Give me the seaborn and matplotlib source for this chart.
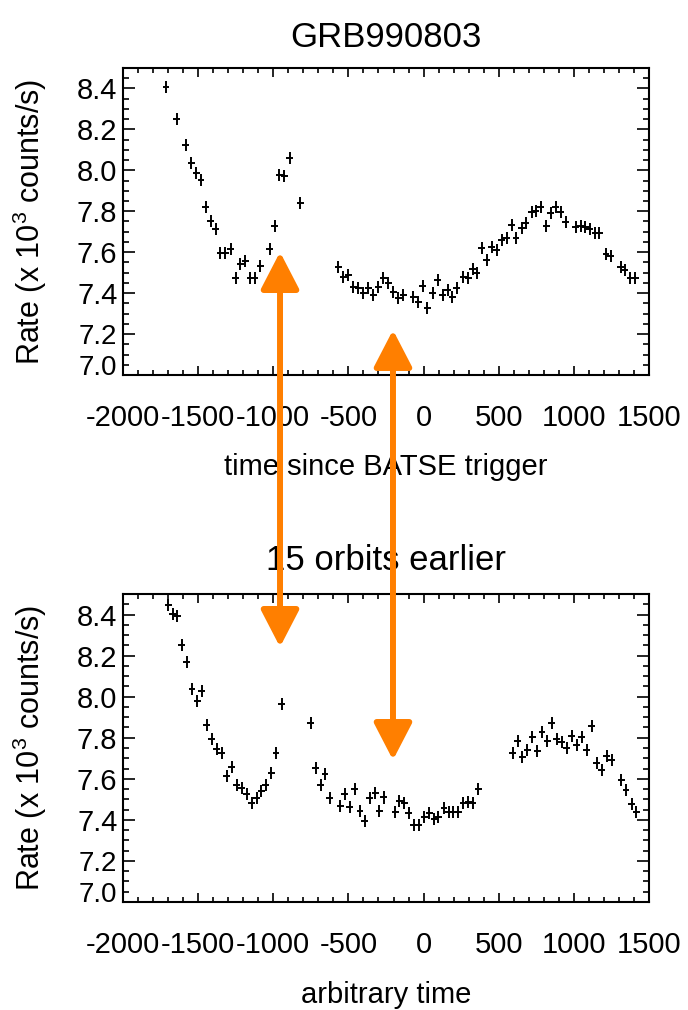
import numpy as np
import pandas as pd
import matplotlib
matplotlib.use("Agg")
import matplotlib.pyplot as plt
import seaborn as sns
from matplotlib.path import Path
from matplotlib.patches import FancyArrowPatch
from matplotlib.ticker import MultipleLocator, FixedLocator

# ---------------- data ----------------
t_top = [-1714, -1643, -1581, -1547, -1514, -1481, -1448, -1416, -1383, -1352,
         -1321, -1283, -1250, -1219, -1186, -1155, -1122, -1088, -1022, -991,
         -960, -927, -889, -822,
         -567, -534, -501, -468, -434, -401, -368, -335, -301, -268,
         -235, -201, -168, -135, -68, -35, -6, 25, 61, 94,
         127, 161, 191, 220, 264, 297, 327, 353, 387, 420,
         453, 487, 520, 553, 586, 615, 652, 681, 719, 748,
         779, 815, 846, 881, 912, 946, 1014, 1047, 1076, 1107,
         1141, 1169, 1214, 1245, 1312, 1340, 1374, 1407]
r_top = [8.405, 8.250, 8.124, 8.034, 7.985, 7.953, 7.819, 7.754, 7.713, 7.594,
         7.594, 7.616, 7.472, 7.542, 7.557, 7.472, 7.472, 7.532, 7.616, 7.729,
         7.977, 7.972, 8.059, 7.839,
         7.529, 7.480, 7.489, 7.431, 7.423, 7.402, 7.423, 7.391, 7.431, 7.472,
         7.448, 7.407, 7.375, 7.391, 7.383, 7.358, 7.435, 7.326, 7.402, 7.464,
         7.391, 7.415, 7.383, 7.423, 7.480, 7.472, 7.516, 7.497, 7.619, 7.562,
         7.624, 7.611, 7.660, 7.668, 7.733, 7.668, 7.716, 7.741, 7.798, 7.803,
         7.822, 7.728, 7.790, 7.822, 7.798, 7.749, 7.724, 7.728, 7.724, 7.711,
         7.695, 7.695, 7.591, 7.581, 7.526, 7.513, 7.472, 7.472]

t_bot = [-1699, -1670, -1639, -1610, -1577, -1541, -1506, -1475, -1443, -1410,
         -1377, -1343, -1310, -1275, -1243, -1210, -1177, -1142, -1110, -1080,
         -1049, -1015, -982, -944,
         -751, -716, -685, -656, -623, -556, -523, -490, -457, -423,
         -390, -357, -323, -295, -264, -190, -161, -130, -99, -64,
         -33, 5, 38, 71, 98, 136, 169, 198, 231, 264,
         297, 327, 364,
         593, 626, 657, 690, 723, 757, 788, 823, 852, 886,
         919, 952, 985, 1019, 1052, 1085, 1119, 1152, 1185, 1218,
         1252, 1314, 1347, 1385, 1414]
r_bot = [8.447, 8.403, 8.393, 8.252, 8.170, 8.036, 7.979, 8.029, 7.862, 7.792,
         7.744, 7.724, 7.614, 7.656, 7.570, 7.553, 7.526, 7.481, 7.505, 7.542,
         7.570, 7.627, 7.727, 7.964,
         7.870, 7.651, 7.570, 7.622, 7.505, 7.468, 7.526, 7.464, 7.549, 7.443,
         7.396, 7.505, 7.529, 7.444, 7.509, 7.439, 7.493, 7.483, 7.432, 7.375,
         7.375, 7.415, 7.435, 7.402, 7.412, 7.456, 7.439, 7.439, 7.439, 7.483,
         7.488, 7.480, 7.549,
         7.727, 7.786, 7.705, 7.740, 7.802, 7.737, 7.829, 7.786, 7.870, 7.792,
         7.780, 7.748, 7.808, 7.765, 7.802, 7.740, 7.857, 7.678, 7.643, 7.711,
         7.692, 7.594, 7.546, 7.477, 7.440]

titles = ["GRB990803", "15 orbits earlier"]
xlabels = ["time since BATSE trigger", "arbitrary time"]
ylabel = "Rate (x 10$^3$ counts/s)"
xticks = [-2000, -1500, -1000, -500, 0, 500, 1000, 1500]
xticklabels = ["-2000", "-1500", "-1000", "-500", "0", "500", "1000", "1500"]
yticks = [7.0, 7.2, 7.4, 7.6, 7.8, 8.0, 8.2, 8.4]
yticklabels = ["7.0", "7.2", "7.4", "7.6", "7.8", "8.0", "8.2", "8.4"]

# ---------------- style ----------------
sns.set_style("ticks")
plt.rcParams["font.family"] = ["Liberation Sans", "DejaVu Sans"]
plt.rcParams["mathtext.fontset"] = "custom"
plt.rcParams["mathtext.rm"] = "Liberation Sans"
plt.rcParams["mathtext.it"] = "Liberation Sans:italic"
plt.rcParams["mathtext.bf"] = "Liberation Sans:bold"
plt.rcParams["text.color"] = "black"
plt.rcParams["axes.labelcolor"] = "black"
plt.rcParams["xtick.color"] = "black"
plt.rcParams["ytick.color"] = "black"

fig = plt.figure(figsize=(6.88, 10.10), dpi=100)
fig.patch.set_facecolor("white")
ax1 = fig.add_axes([0.1788, 0.6287, 0.7645, 0.304])
ax2 = fig.add_axes([0.1788, 0.1069, 0.7645, 0.305])

plus = Path([(-0.58, 0), (0.58, 0), (0, -1), (0, 1)],
            [Path.MOVETO, Path.LINETO, Path.MOVETO, Path.LINETO])

panels = [(ax1, t_top, r_top, titles[0], xlabels[0], 15),
          (ax2, t_bot, r_bot, titles[1], xlabels[1], 17)]

for ax, t, r, title, xl, tpad in panels:
    df = pd.DataFrame({"t": t, "r": r})
    sns.scatterplot(data=df, x="t", y="r", ax=ax, marker=plus, s=75,
                    color="black", facecolor="none", edgecolor="black",
                    linewidth=1.4, legend=False)
    ax.set_xlim(-2000, 1500)
    ax.set_ylim(7.0, 8.5)
    ax.xaxis.set_major_locator(FixedLocator(xticks))
    ax.set_xticklabels(xticklabels)
    ax.yaxis.set_major_locator(FixedLocator(yticks))
    ax.set_yticklabels(yticklabels)
    ax.xaxis.set_minor_locator(MultipleLocator(100))
    ax.yaxis.set_minor_locator(MultipleLocator(0.05))
    ax.tick_params(which="both", direction="in", top=True, right=True,
                   color="black", width=1.2, labelsize=21, labelcolor="black")
    ax.tick_params(axis="y", which="major", length=8.5, pad=4)
    ax.tick_params(axis="y", which="minor", length=4.5)
    ax.tick_params(axis="x", which="major", length=6.5, pad=21)
    ax.tick_params(axis="x", which="minor", length=3.5)
    for sp in ax.spines.values():
        sp.set_visible(True)
        sp.set_linewidth(1.5)
        sp.set_color("black")
    ax.set_title(title, fontsize=25, pad=tpad, color="black")
    ax.set_xlabel(xl, fontsize=21, color="black")
    ax.xaxis.set_label_coords(0.5, -0.255)
    ax.set_ylabel(ylabel, fontsize=22, color="black")
    ax.yaxis.set_label_coords(-0.14, 0.5)
    ax.grid(False)
    labs = ax.get_yticklabels()
    labs[0].set_verticalalignment("baseline")
    labs[0].set_fontsize(20)
    labs[1].set_fontsize(20)

# ---------------- orange double-headed arrows (figure fraction) ----------------
arrows = [((0.407, 0.7505), (0.407, 0.3594)),
          ((0.5712, 0.6733), (0.5712, 0.2475))]
for a, b in arrows:
    fig.patches.append(FancyArrowPatch(
        a, b, transform=fig.transFigure, figure=fig,
        arrowstyle="<|-|>,head_length=22.7,head_width=11.75",
        mutation_scale=1, linewidth=4.3, color="#FF7F00",
        shrinkA=0, shrinkB=0, zorder=5))

fig.savefig("out.png", dpi=100, facecolor="white")
